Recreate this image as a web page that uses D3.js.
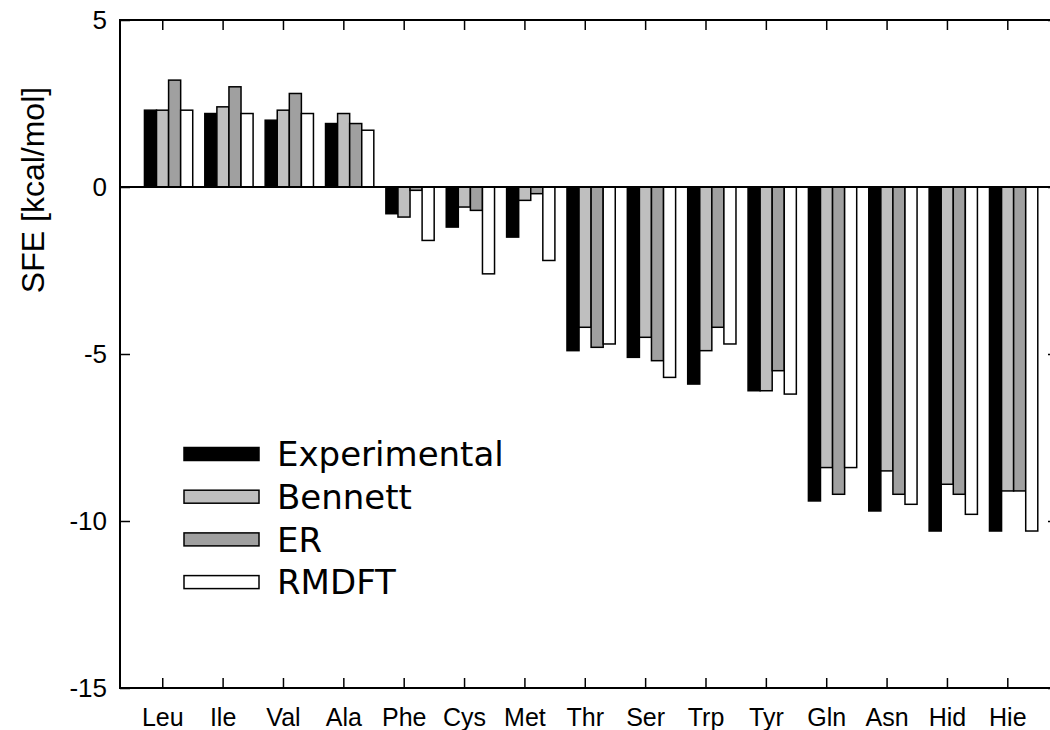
<!DOCTYPE html>
<html>
<head>
<meta charset="utf-8">
<script src="https://cdn.jsdelivr.net/npm/d3@7"></script>
<style>
  body { margin: 0; background: #fff; }
  svg { display: block; }
</style>
</head>
<body>
<div id="chart"></div>
<script>
// amino acids along the x axis
var categories = ['Leu', 'Ile', 'Val', 'Ala', 'Phe', 'Cys', 'Met', 'Thr', 'Ser', 'Trp', 'Tyr', 'Gln', 'Asn', 'Hid', 'Hie'];

// solvation free energies, kcal/mol
var experimental = [2.3, 2.2, 2.0, 1.9, -0.8, -1.2, -1.5, -4.9, -5.1, -5.9, -6.1, -9.4, -9.7, -10.3, -10.3];
var bennett = [2.3, 2.4, 2.3, 2.2, -0.9, -0.6, -0.4, -4.2, -4.5, -4.9, -6.1, -8.4, -8.5, -8.9, -9.1];
var er = [3.2, 3.0, 2.8, 1.9, -0.1, -0.7, -0.2, -4.8, -5.2, -4.2, -5.5, -9.2, -9.2, -9.2, -9.1];
var rmdft = [2.3, 2.2, 2.2, 1.7, -1.6, -2.6, -2.2, -4.7, -5.7, -4.7, -6.2, -8.4, -9.5, -9.8, -10.3];

var seriesNames = ['Experimental', 'Bennett', 'ER', 'RMDFT'];
var yTicks = [5, 0, -5, -10, -15];

var series = [experimental, bennett, er, rmdft];
var fills = ['#000000', '#bfbfbf', '#a0a0a0', '#ffffff'];

var w = 1050;
var h = 730;
var plotL = 120, plotR = 1058, plotT = 20, plotB = 688;
var tickLen = 10;

var x = d3.scaleLinear()
  .domain([-0.7, 14.84])
  .range([plotL, plotR]);

var y = d3.scaleLinear()
  .domain([-15, 5])
  .range([plotB, plotT]);

var barW = x(0.2) - x(0);

var svg = d3.select('#chart')
  .append('svg')
    .attr('width', w)
    .attr('height', h);

// bars, one group per series
series.forEach(function(vals, j) {
  svg.append('g')
    .attr('class', 'series-' + j)
    .selectAll('rect')
    .data(vals)
    .enter()
    .append('rect')
      .attr('x', function(d, i) { return x(i - 0.195 + 0.2 * j) - barW / 2; })
      .attr('y', function(d) { return y(Math.max(0, d)); })
      .attr('width', barW)
      .attr('height', function(d) { return Math.abs(y(d) - y(0)); })
      .attr('fill', fills[j])
      .attr('stroke', '#000')
      .attr('stroke-width', 1.5);
});

// zero line
svg.append('line')
  .attr('x1', plotL).attr('x2', plotR)
  .attr('y1', y(0)).attr('y2', y(0))
  .attr('stroke', '#000')
  .attr('stroke-width', 2.2);

// frame with mirrored ticks
var axisStroke = function(sel) {
  sel.select('.domain').remove();
  sel.selectAll('.tick line').attr('stroke', '#000').attr('stroke-width', 1.5);
  sel.selectAll('.tick text').attr('fill', '#000');
};

var catIdx = d3.range(categories.length);

svg.append('g')
  .attr('transform', 'translate(0,' + plotB + ')')
  .call(d3.axisBottom(x).tickValues(catIdx).tickSize(-tickLen).tickPadding(20)
    .tickFormat(function(d) { return categories[d]; }))
  .call(axisStroke)
  .selectAll('text')
    .attr('font-family', '"Liberation Sans", Arial, sans-serif')
    .attr('font-size', 25);

svg.append('g')
  .attr('transform', 'translate(0,' + plotT + ')')
  .call(d3.axisTop(x).tickValues(catIdx).tickSize(-tickLen).tickFormat(''))
  .call(axisStroke);

svg.append('g')
  .attr('transform', 'translate(' + plotL + ',0)')
  .call(d3.axisLeft(y).tickValues(yTicks).tickSize(-tickLen).tickPadding(13)
    .tickFormat(function(d) { return String(d); }))
  .call(axisStroke)
  .selectAll('text')
    .attr('font-family', '"Liberation Sans", Arial, sans-serif')
    .attr('font-size', 26);

svg.append('g')
  .attr('transform', 'translate(' + plotR + ',0)')
  .call(d3.axisRight(y).tickValues(yTicks).tickSize(-tickLen).tickFormat(''))
  .call(axisStroke);

svg.append('rect')
  .attr('x', plotL).attr('y', plotT)
  .attr('width', plotR - plotL).attr('height', plotB - plotT)
  .attr('fill', 'none')
  .attr('stroke', '#000')
  .attr('stroke-width', 2);

// y label
svg.append('text')
  .attr('transform', 'translate(44,190) rotate(-90)')
  .attr('text-anchor', 'middle')
  .attr('font-family', '"Liberation Sans", Arial, sans-serif')
  .attr('font-size', 32)
  .text('SFE [kcal/mol]');

// legend
var legend = svg.selectAll('.legend-item')
  .data(seriesNames)
  .enter()
  .append('g')
    .attr('class', 'legend-item')
    .attr('transform', function(d, i) { return 'translate(184,' + (454 + i * 42.7) + ')'; });

legend.append('rect')
  .attr('x', 0).attr('y', -6.5)
  .attr('width', 75).attr('height', 13)
  .attr('fill', function(d, i) { return fills[i]; })
  .attr('stroke', '#000')
  .attr('stroke-width', 1.5);

legend.append('text')
  .attr('x', 93)
  .attr('y', 0)
  .attr('dy', '0.36em')
  .attr('font-family', '"DejaVu Sans", Verdana, sans-serif')
  .attr('font-size', 34)
  .text(function(d) { return d; });
</script>
</body>
</html>
